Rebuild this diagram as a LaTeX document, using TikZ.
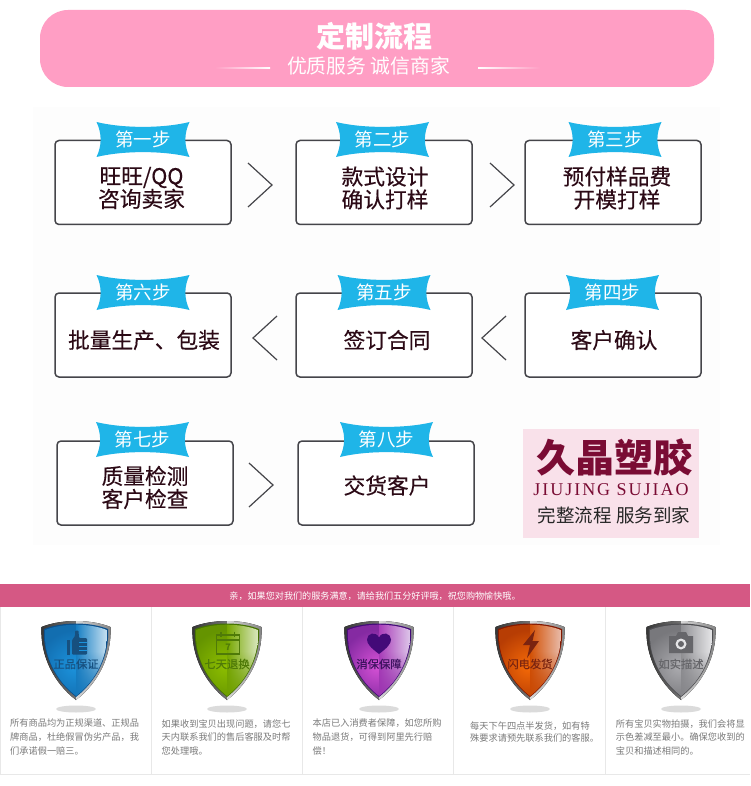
\documentclass[tikz,border=0pt]{standalone}
\usepackage{fontspec}
\setmainfont{Noto Sans CJK SC}
\newfontfamily\stepfont[FakeBold=0.35]{Noto Sans CJK SC}
\newfontfamily\markfont[FakeBold=0.2]{Noto Sans CJK SC}
\newfontfamily\latinserif[LetterSpace=11]{Liberation Serif}
\usetikzlibrary{arrows,fadings}
\definecolor{headpink}{HTML}{FF9EC4}
\definecolor{bandpink}{HTML}{D55884}
\definecolor{flagblue}{HTML}{1FB5E8}
\definecolor{boxgray}{HTML}{45454A}
\definecolor{boxtext}{HTML}{2C0A16}
\definecolor{logopink}{HTML}{F9E1EA}
\definecolor{logored}{HTML}{7A0C34}
\definecolor{notegray}{HTML}{7A7A7A}
\definecolor{cellgray}{HTML}{E8E8E8}
\definecolor{blueA}{HTML}{0A4F8C}\definecolor{blueB}{HTML}{1C93DC}\definecolor{blueC}{HTML}{C4DFF0}\definecolor{blueD}{HTML}{17507F}
\definecolor{greenA}{HTML}{447200}\definecolor{greenB}{HTML}{8DBE00}\definecolor{greenC}{HTML}{D8E6BC}\definecolor{greenD}{HTML}{4F7A08}
\definecolor{purpA}{HTML}{430A78}\definecolor{purpB}{HTML}{D652D6}\definecolor{purpC}{HTML}{DCC4E8}\definecolor{purpD}{HTML}{3E1260}
\definecolor{redA}{HTML}{841800}\definecolor{redB}{HTML}{F56A08}\definecolor{redC}{HTML}{E8BAA8}\definecolor{redD}{HTML}{7A2410}
\definecolor{grayA}{HTML}{4E4E52}\definecolor{grayB}{HTML}{ACACB0}\definecolor{grayC}{HTML}{E4E4E6}\definecolor{grayD}{HTML}{66666A}
\tikzset{
	stepbox/.style={draw=boxgray, line width=1.5pt, rounded corners=4pt, fill=white, minimum width=176pt, minimum height=84pt, inner sep=0pt},
	steptext/.style={text=boxtext, inner sep=0pt, align=center, font=\fontsize{21.7}{23}\stepfont},
	flagtext/.style={text=white, inner sep=0pt, font=\fontsize{18.5}{20}\selectfont},
	chevron/.style={draw=boxgray, line width=1.2pt},
	notetext/.style={anchor=north west, inner sep=0pt, text=notegray, align=left, font=\fontsize{9.2}{13.6}\selectfont},
}
\newcommand{\stepflag}[4]{
	\fill[flagblue, shift={(#2,#3)}] (-46.5,-17.5) .. controls (-20,-11) and (20,-11) .. (46.5,-17.5) .. controls (41,-6) and (41,6) .. (46.5,17.5) .. controls (20,11) and (-20,11) .. (-46.5,17.5) .. controls (-41,6) and (-41,-6) .. (-46.5,-17.5) -- cycle;
	\node[flagtext] (#1) at (#2,#3) {#4};
}
\newcommand{\shieldpath}{(0,0) .. controls (12,0) and (25,2) .. (34.5,6) .. controls (36,35) and (22,62) .. (0,79) .. controls (-22,62) and (-36,35) .. (-34.5,6) .. controls (-25,2) and (-12,0) .. (0,0) -- cycle}
% name, x, edge, left half, right half, label colour, label, icon
\newcommand{\shield}[8]{
	\begin{scope}[shift={(#2,621)}]
		\fill[black!14] (0,88) ellipse (20 and 3.5);
		\begin{scope}
			\clip \shieldpath;
			\fill[left color=black!80, right color=black!55] (-37,-1) rectangle (0,80);
			\fill[left color=black!15, right color=black!50] (0,-1) rectangle (37,80);
		\end{scope}
		\begin{scope}[shift={(0,2.5)}, scale=0.93]
			\fill[#3] \shieldpath;
		\end{scope}
		\begin{scope}[shift={(0,3.7)}, scale=0.9]
			\clip \shieldpath;
			\fill[#4!45!#3] (-37,-1) rectangle (0,80);
			\begin{scope}
				\clip (-37,-1) rectangle (0,80);
				\shade[inner color=#4, outer color=#4!45!#3] (-2,46) circle (40);
			\end{scope}
			\shade[left color=#4!70!#3, right color=#5] (0,-1) rectangle (34,80);
			\fill[#4!60!#3, path fading=north] (0,30) rectangle (37,80);
		\end{scope}
		#8
		\node[text=#6, inner sep=0pt, font=\fontsize{11.3}{12}\markfont] (#1) at (0,43) {#7};
	\end{scope}
}
\begin{document}
\begin{tikzpicture}[x=1pt,y=-1pt]
	\useasboundingbox (0,0) rectangle (750,786);
	\fill[white] (0,0) rectangle (750,786);
	\fill[black!0.7] (33,107) rectangle (720,545);
	% header
	\fill[headpink, rounded corners=28pt] (40,10) rectangle (714,87);
	\fill[left color=headpink, right color=white] (215,67.6) rectangle (270,68.6);
	\fill[left color=white, right color=headpink] (478,67.6) rectangle (540,68.6);
	\node[text=white, inner sep=0pt, font=\fontsize{29}{30}\selectfont\bfseries] (title) at (374,36) {定制流程};
	\node[text=white, inner sep=0pt, font=\fontsize{19.8}{22}\selectfont] (subtitle) at (368.5,66) {优质服务 诚信商家};
	% steps
	\node[stepbox] (box1) at (143,182.5) {};
	\node[stepbox] (box2) at (384,182.5) {};
	\node[stepbox] (box3) at (613,182.5) {};
	\node[stepbox] (box6) at (143,335) {};
	\node[stepbox] (box5) at (384,335) {};
	\node[stepbox] (box4) at (613,335) {};
	\node[stepbox] (box7) at (145,483) {};
	\node[stepbox] (box8) at (386,483) {};
	\node[steptext] (text1) at (141.5,188) {旺旺/QQ\\咨询卖家};
	\node[steptext] (text2) at (385,188) {款式设计\\确认打样};
	\node[steptext] (text3) at (617,188) {预付样品费\\开模打样};
	\node[steptext] (text6) at (144,340) {批量生产、包装};
	\node[steptext] (text5) at (387,340) {签订合同};
	\node[steptext] (text4) at (614,340) {客户确认};
	\node[steptext] (text7) at (145,487.5) {质量检测\\客户检查};
	\node[steptext] (text8) at (387,485.5) {交货客户};
	\stepflag{flag1}{143}{139.5}{第一步}
	\stepflag{flag2}{382.5}{139.5}{第二步}
	\stepflag{flag3}{615}{139.5}{第三步}
	\stepflag{flag6}{143}{292.5}{第六步}
	\stepflag{flag5}{384}{292.5}{第五步}
	\stepflag{flag4}{612.5}{292.5}{第四步}
	\stepflag{flag7}{142.5}{439.5}{第七步}
	\stepflag{flag8}{386.5}{439.5}{第八步}
	\draw[chevron] (248,163) -- (272,185) -- (248,207);
	\draw[chevron] (490,163) -- (514,185) -- (490,207);
	\draw[chevron] (277,316) -- (253,338) -- (277,360);
	\draw[chevron] (506,316) -- (482,338) -- (506,360);
	\draw[chevron] (249,463) -- (273,485) -- (249,507);
	% logo
	\fill[logopink] (523,429) rectangle (699,538);
	\node[text=logored, inner sep=0pt, font=\fontsize{39}{40}\selectfont\bfseries] (logo) at (614.5,458) {久晶塑胶};
	\node[text=logored, inner sep=0pt, font=\fontsize{18}{19}\latinserif] (logolatin) at (611,490) {JIUJING SUJIAO};
	\node[text=black!85, inner sep=0pt, font=\fontsize{18.5}{20}\selectfont] (slogan) at (614,515) {完整流程 服务到家};
	% bottom band
	\fill[bandpink] (0,584) rectangle (750,607);
	\node[text=white, inner sep=0pt, font=\fontsize{9.1}{10}\selectfont] (bandtext) at (375,596) {亲，如果您对我们的服务满意，请给我们五分好评哦，祝您购物愉快哦。};
	\draw[cellgray, line width=1pt] (0.5,607) -- (0.5,774) -- (750,774);
	\draw[cellgray, line width=1pt] (151.5,607) -- (151.5,774);
	\draw[cellgray, line width=1pt] (302.5,607) -- (302.5,774);
	\draw[cellgray, line width=1pt] (453.7,607) -- (453.7,774);
	\draw[cellgray, line width=1pt] (605,607) -- (605,774);
	% shields
	\shield{mark1}{76}{blueA}{blueB}{blueC}{blueD}{正品保证}{
		\fill[blueD] (-9.3,19) rectangle (-6,33.5);
		\fill[blueD, rounded corners=1pt] (-4,33.5) -- (-4,19) -- (-1,15) -- (-1,9.5) -- (2.5,9.5) -- (3,17) -- (11,17) -- (11,33.5) -- cycle;
		\draw[blueB, line width=0.8pt] (3,21.5) -- (11,21.5) (3,25.5) -- (11,25.5) (3,29.5) -- (11,29.5);
	}
	\shield{mark2}{227}{greenA}{greenB}{greenC}{greenD}{七天退换}{
		\draw[greenD, line width=1.1pt] (-10.5,14) rectangle (12.5,33);
		\draw[greenD, line width=1.1pt] (-10.5,19) -- (12.5,19);
		\draw[greenD, line width=1.6pt] (-6,10.5) -- (-6,16) (7.5,10.5) -- (7.5,16);
		\node[text=greenD, inner sep=0pt, font=\fontsize{9}{10}\selectfont\bfseries] (cal) at (1,26) {7};
	}
	\shield{mark3}{379}{purpA}{purpB}{purpC}{purpD}{消保保障}{
		\fill[purpA] (0,33) .. controls (-8,27) and (-12,23) .. (-12,18.5) .. controls (-12,12) and (-3,10) .. (0,16.5) .. controls (3,10) and (12,12) .. (12,18.5) .. controls (12,23) and (8,27) .. (0,33) -- cycle;
	}
	\shield{mark4}{530}{redA}{redB}{redC}{redD}{闪电发货}{
		\fill[redD] (5,9) -- (-7,24) -- (0,24) -- (-3,37) -- (9,20) -- (2.5,20) -- cycle;
	}
	\shield{mark5}{681}{grayA}{grayB}{grayC}{grayD}{如实描述}{
		\fill[grayD] (-12,15) -- (-5,15) -- (-3,11) -- (5,11) -- (7,15) -- (12,15) -- (12,32) -- (-12,32) -- cycle;
		\fill[grayC] (0,23) circle (5.5);
		\fill[grayD] (0,23) circle (3);
	}
	% notes
	\node[notetext] (note1) at (10,719) {所有商品均为正规渠道、正规品\\牌商品，杜绝假冒伪劣产品，我\\们承诺假一赔三。};
	\node[notetext] (note2) at (161.5,719) {如果收到宝贝出现问题，请您七\\天内联系我们的售后客服及时帮\\您处理哦。};
	\node[notetext] (note3) at (312.5,719) {本店已入消费者保障，如您所购\\物品退货，可得到阿里先行赔\\偿！};
	\node[notetext, font=\fontsize{9.2}{11.7}\selectfont] (note4) at (470,721.5) {每天下午四点半发货，如有特\\殊要求请预先联系我们的客服。};
	\node[notetext] (note5) at (615.7,719) {所有宝贝实物拍摄，我们会将显\\示色差减至最小。确保您收到的\\宝贝和描述相同的。};
\end{tikzpicture}
\end{document}
